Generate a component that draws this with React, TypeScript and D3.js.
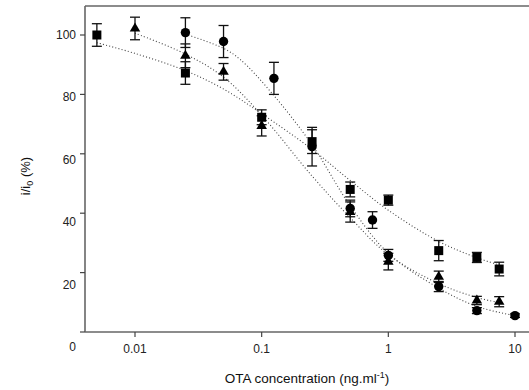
import React from "react";
import * as d3 from "d3";

// ---- data ----
const squareX = [0.005, 0.025, 0.1, 0.25, 0.5, 1, 2.5, 5, 7.5];
const squareY = [100, 87.2, 72.3, 64.1, 48, 44.4, 27.4, 25.1, 21.2];
const squareErr = [3.8, 3.8, 2.5, 4, 2.5, 1.7, 3.4, 1.7, 2.3];

const triangleX = [0.01, 0.025, 0.05, 0.1, 0.5, 1, 2.5, 5, 7.5];
const triangleY = [102.2, 93, 87.6, 69.4, 40.4, 23.7, 18.6, 10.6, 10.2];
const triangleErr = [3.8, 4, 2.8, 3.4, 3.4, 2.8, 1.9, 1.4, 1.7];

const circleX = [0.025, 0.05, 0.125, 0.25, 0.5, 0.75, 1, 2.5, 5, 10];
const circleY = [100.8, 97.8, 85.4, 62.4, 41.6, 37.7, 25.8, 15.3, 7.2, 5.5];
const circleErr = [5, 5.4, 5.4, 6.5, 2.8, 2.8, 2, 1.7, 1, 0.6];

// fitted dotted curves
const squareCurveX = [0.005, 0.01, 0.025, 0.05, 0.1, 0.25, 0.5, 1, 2.5, 5, 7.5];
const squareCurveY = [97.4, 93.8, 88, 81.8, 73.5, 61.5, 51, 41, 30.5, 25, 22.6];
const triangleCurveX = [0.01, 0.025, 0.05, 0.1, 0.25, 0.5, 1, 2.5, 5, 7.5];
const triangleCurveY = [100.6, 93.6, 85.8, 73, 52.5, 38.5, 26, 16.3, 11.6, 9.9];
const circleCurveX = [0.025, 0.05, 0.0675, 0.12, 0.25, 0.5, 1, 2.5, 5, 10];
const circleCurveY = [100.3, 95.5, 91.8, 80.5, 63, 42.5, 26.5, 14.8, 8.6, 5.5];

const xTicks = [0.01, 0.1, 1, 10];
const xTickLabels = ["0.01", "0.1", "1", "10"];
const yTicks = [0, 20, 40, 60, 80, 100];
const yTickLabels = ["0", "20", "40", "60", "80", "100"];

const W = 529;
const H = 390;
const FONT = "'Liberation Sans', Arial, sans-serif";

export default function App() {
  const x = d3.scaleLog().domain([0.01, 10]).range([135, 515]);
  const y = d3.scaleLinear().domain([0, 100]).range([332, 35]);
  const yLab = d3.scaleLinear().domain([0, 100]).range([347, 35]);

  const left = 85;
  const right = 530;
  const top = 6;
  const bottom = y(0);

  const line = d3
    .line<[number, number]>()
    .x((d) => x(d[0]))
    .y((d) => y(d[1]))
    .curve(d3.curveCatmullRom.alpha(0.5));

  const curves = [
    { xs: squareCurveX, ys: squareCurveY },
    { xs: triangleCurveX, ys: triangleCurveY },
    { xs: circleCurveX, ys: circleCurveY },
  ];

  const errBars = (xs: number[], ys: number[], es: number[], key: string) =>
    xs.map((xv, i) => {
      const cx = x(xv);
      const y1 = y(ys[i] + es[i]);
      const y2 = y(ys[i] - es[i]);
      return (
        <g key={key + i} stroke="#111" strokeWidth={1.3}>
          <line x1={cx} x2={cx} y1={y1} y2={y2} />
          <line x1={cx - 5} x2={cx + 5} y1={y1} y2={y1} />
          <line x1={cx - 5} x2={cx + 5} y1={y2} y2={y2} />
        </g>
      );
    });

  const tri = d3.symbol().type(d3.symbolTriangle).size(48)();

  return (
    <svg
      width={W}
      height={H}
      style={{ position: "absolute", left: 0, top: 0, background: "#fff" }}
      fontFamily={FONT}
    >
      <rect x={0} y={0} width={W} height={H} fill="#fff" />
      {/* dotted fitted curves */}
      {curves.map((c, i) => (
        <path
          key={"c" + i}
          d={line(c.xs.map((v, j) => [v, c.ys[j]] as [number, number])) || ""}
          fill="none"
          stroke="#444"
          strokeWidth={1.1}
          strokeDasharray="1,2.2"
        />
      ))}
      {/* error bars */}
      {errBars(squareX, squareY, squareErr, "se")}
      {errBars(triangleX, triangleY, triangleErr, "te")}
      {errBars(circleX, circleY, circleErr, "ce")}
      {/* markers */}
      {squareX.map((v, i) => (
        <rect
          key={"s" + i}
          x={x(v) - 4.5}
          y={y(squareY[i]) - 4.5}
          width={9}
          height={9}
          fill="#000"
        />
      ))}
      {triangleX.map((v, i) => (
        <path
          key={"t" + i}
          d={tri || ""}
          transform={`translate(${x(v)},${y(triangleY[i])})`}
          fill="#000"
        />
      ))}
      {circleX.map((v, i) => (
        <circle key={"o" + i} cx={x(v)} cy={y(circleY[i])} r={4.7} fill="#000" />
      ))}
      {/* frame */}
      <line x1={left} x2={right} y1={top} y2={top} stroke="#666" strokeWidth={1.6} />
      <line x1={left} x2={left} y1={top} y2={bottom} stroke="#666" strokeWidth={1.6} />
      <line x1={left} x2={right} y1={bottom} y2={bottom} stroke="#666" strokeWidth={1.6} />
      {/* y ticks */}
      {yTicks.map((t, i) => (
        <g key={"yt" + i}>
          <line x1={left - 5} x2={left} y1={y(t)} y2={y(t)} stroke="#444" strokeWidth={1.2} />
          <text
            x={76}
            y={yLab(t)}
            textAnchor="end"
            dominantBaseline="central"
            fontSize={12}
            fill="#222"
          >
            {yTickLabels[i]}
          </text>
        </g>
      ))}
      {/* x ticks */}
      {xTicks.map((t, i) => (
        <g key={"xt" + i}>
          <line x1={x(t)} x2={x(t)} y1={bottom} y2={bottom + 5} stroke="#444" strokeWidth={1.2} />
          <text
            x={x(t)}
            y={349}
            textAnchor="middle"
            dominantBaseline="central"
            fontSize={12}
            fill="#222"
          >
            {xTickLabels[i]}
          </text>
        </g>
      ))}
      {/* axis titles */}
      <text x={307} y={383} textAnchor="middle" fontSize={13.5} fill="#111">
        OTA concentration (ng.ml
        <tspan fontSize={9} dy={-5}>-1</tspan>
        <tspan dy={5}>)</tspan>
      </text>
      <text
        transform="translate(30,176) rotate(-90)"
        textAnchor="middle"
        fontSize={13}
        fill="#111"
      >
        i/i
        <tspan fontSize={9} dy={3}>0</tspan>
        <tspan dy={-3}> (%)</tspan>
      </text>
    </svg>
  );
}
